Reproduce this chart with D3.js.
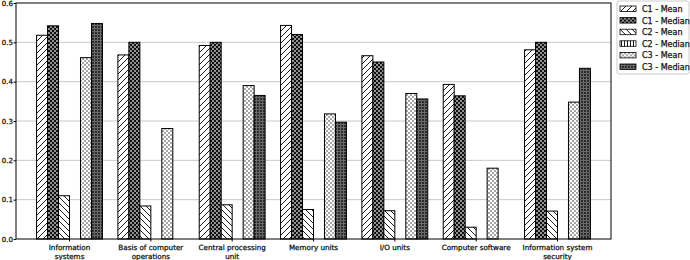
<!DOCTYPE html>
<html>
<head>
<meta charset="utf-8">
<script src="https://cdn.jsdelivr.net/npm/d3@7"></script>
<style>
  body { margin: 0; background: #fff; }
  text { font-family: "DejaVu Sans", sans-serif; }
</style>
</head>
<body>
<svg id="chart"></svg>
<script>
const categories = [
  ["Information", "systems"],
  ["Basis of computer", "operations"],
  ["Central processing", "unit"],
  ["Memory units"],
  ["I/O units"],
  ["Computer software"],
  ["Information system", "security"]
];
const seriesNames = ["C1 - Mean", "C1 - Median", "C2 - Mean", "C2 - Median", "C3 - Mean", "C3 - Median"];
const c1Mean   = [0.518, 0.468, 0.492, 0.543, 0.466, 0.393, 0.481];
const c1Median = [0.542, 0.500, 0.500, 0.520, 0.450, 0.364, 0.500];
const c2Mean   = [0.110, 0.084, 0.087, 0.075, 0.072, 0.030, 0.071];
const c2Median = [0, 0, 0, 0, 0, 0, 0];
const c3Mean   = [0.461, 0.281, 0.390, 0.318, 0.370, 0.180, 0.348];
const c3Median = [0.548, 0, 0.365, 0.297, 0.356, 0, 0.434];
const yTicks = [0.0, 0.1, 0.2, 0.3, 0.4, 0.5, 0.6];

const allSeries = [c1Mean, c1Median, c2Mean, c2Median, c3Mean, c3Median];
const patternIds = ["p0", "p1", "p2", "p3", "p4", "p5"];

const width = 690, height = 260;
const mLeft = 16, mRight = 611, mTop = 3, mBottom = 239;

const svg = d3.select("#chart").attr("width", width).attr("height", height);
const defs = svg.append("defs");

// hatch patterns
function pattern(id, w, h, draw) {
  const p = defs.append("pattern").attr("id", id)
    .attr("patternUnits", "userSpaceOnUse").attr("width", w).attr("height", h);
  draw(p);
}
pattern("p0", 6, 6, p => {
  p.append("rect").attr("width", 6).attr("height", 6).attr("fill", "#fff");
  p.append("path").attr("d", "M0,6L6,0M-1,1L1,-1M5,7L7,5").attr("stroke", "#000").attr("stroke-width", 0.9);
});
pattern("p1", 4, 4, p => {
  p.append("rect").attr("width", 4).attr("height", 4).attr("fill", "#111");
  p.append("path").attr("d", "M1,0.2L1,1.8M0.2,1L1.8,1M3,2.2L3,3.8M2.2,3L3.8,3").attr("stroke", "#fff").attr("stroke-width", 0.8);
});
pattern("p2", 6, 6, p => {
  p.append("rect").attr("width", 6).attr("height", 6).attr("fill", "#fff");
  p.append("path").attr("d", "M0,0L6,6M5,-1L7,1M-1,5L1,7").attr("stroke", "#000").attr("stroke-width", 0.9);
});
pattern("p3", 3, 3, p => {
  p.append("rect").attr("width", 3).attr("height", 3).attr("fill", "#fff");
  p.append("path").attr("d", "M1.5,0L1.5,3").attr("stroke", "#000").attr("stroke-width", 0.9);
});
pattern("p4", 4, 4, p => {
  p.append("rect").attr("width", 4).attr("height", 4).attr("fill", "#fff");
  p.append("circle").attr("cx", 1).attr("cy", 1).attr("r", 0.65).attr("fill", "#000");
  p.append("circle").attr("cx", 3).attr("cy", 3).attr("r", 0.65).attr("fill", "#000");
});
pattern("p5", 3, 3, p => {
  p.append("rect").attr("width", 3).attr("height", 3).attr("fill", "#222");
  p.append("circle").attr("cx", 1.5).attr("cy", 1.5).attr("r", 0.8).attr("fill", "none").attr("stroke", "#ddd").attr("stroke-width", 0.5);
});

const x = d3.scaleBand().domain(d3.range(categories.length))
  .range([mLeft, mRight]).paddingInner(0.19).paddingOuter(0.253);
const xs = d3.scaleBand().domain(d3.range(seriesNames.length)).range([0, x.bandwidth()]);
const y = d3.scaleLinear().domain([0, 0.6]).range([mBottom, mTop]);

// grid
svg.append("g").selectAll("line").data(yTicks.slice(1, -1)).join("line")
  .attr("x1", mLeft).attr("x2", mRight)
  .attr("y1", d => y(d)).attr("y2", d => y(d))
  .attr("stroke", "#c8c8c8").attr("stroke-width", 1);

// bars
allSeries.forEach((vals, s) => {
  svg.append("g").selectAll("rect").data(vals.map((v, i) => ({ v, i })).filter(d => d.v > 0)).join("rect")
    .attr("x", d => x(d.i) + xs(s))
    .attr("y", d => y(d.v))
    .attr("width", xs.bandwidth())
    .attr("height", d => mBottom - y(d.v))
    .attr("fill", `url(#${patternIds[s]})`)
    .attr("stroke", "#000").attr("stroke-width", 1);
});

// frame
svg.append("rect").attr("x", mLeft).attr("y", mTop)
  .attr("width", mRight - mLeft).attr("height", mBottom - mTop)
  .attr("fill", "none").attr("stroke", "#000").attr("stroke-width", 1);

// y axis
const yAxis = svg.append("g").attr("transform", `translate(${mLeft},0)`)
  .call(d3.axisLeft(y).tickValues(yTicks).tickFormat(d3.format(".1f")).tickSize(2.5));
yAxis.select(".domain").remove();
yAxis.selectAll("text").attr("font-size", 7).attr("stroke", "#111").attr("stroke-width", 0.25)
  .attr("font-family", "DejaVu Sans").attr("x", -3).attr("fill", "#111");

// x labels
const xl = svg.append("g").selectAll("text").data(categories).join("text")
  .attr("x", (d, i) => x(i) + x.bandwidth() / 2)
  .attr("y", mBottom + 11)
  .attr("text-anchor", "middle")
  .attr("font-size", 7.2).attr("stroke", "#111").attr("stroke-width", 0.25).attr("fill", "#111");
xl.selectAll("tspan").data(d => d).join("tspan")
  .attr("x", function () { return d3.select(this.parentNode).attr("x"); })
  .attr("dy", (d, i) => i === 0 ? 0 : 9)
  .text(d => d);
svg.append("g").selectAll("line").data(categories).join("line")
  .attr("x1", (d, i) => x(i) + x.bandwidth() / 2).attr("x2", (d, i) => x(i) + x.bandwidth() / 2)
  .attr("y1", mBottom).attr("y2", mBottom + 2.5).attr("stroke", "#000");

// legend
const lg = svg.append("g").attr("transform", "translate(617,1)");
lg.append("rect").attr("width", 72).attr("height", 73).attr("rx", 2)
  .attr("fill", "#fff").attr("stroke", "#ccc");
seriesNames.forEach((name, s) => {
  const row = lg.append("g").attr("transform", `translate(3,${5 + s * 11.6})`);
  row.append("rect").attr("width", 16).attr("height", 5.5)
    .attr("fill", `url(#${patternIds[s]})`).attr("stroke", "#000").attr("stroke-width", 0.8);
  row.append("text").attr("x", 22).attr("y", 6)
    .attr("font-size", 8).attr("stroke", "#111").attr("stroke-width", 0.25).attr("fill", "#111").text(name);
});
</script>
</body>
</html>
